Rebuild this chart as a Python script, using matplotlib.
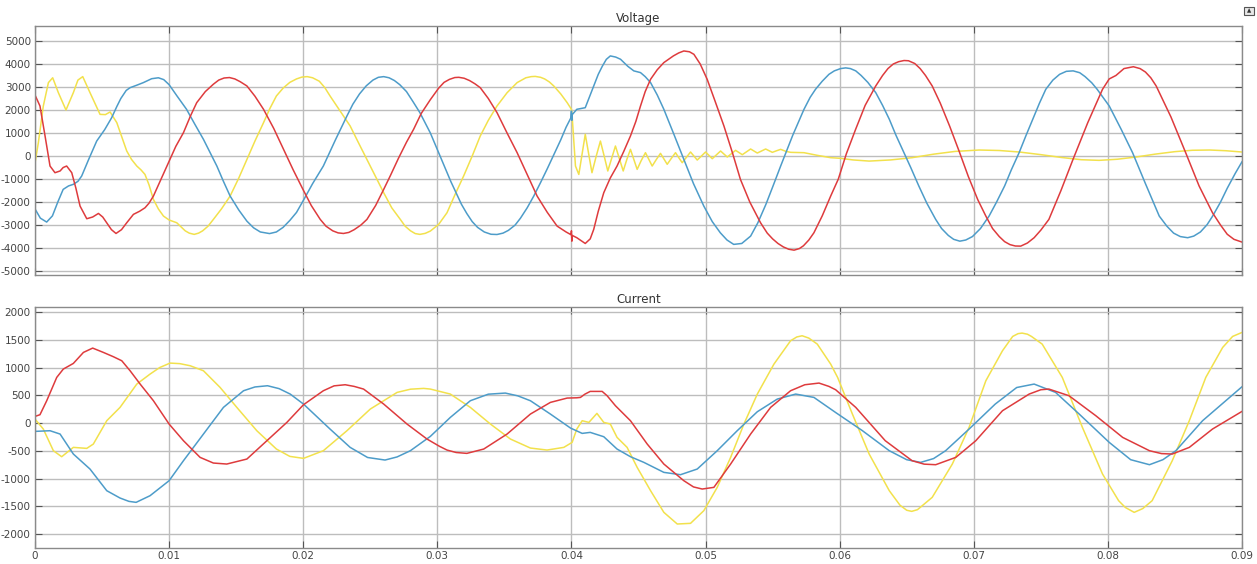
import matplotlib
matplotlib.use("Agg")
import matplotlib.pyplot as plt
from matplotlib.patches import Rectangle
import numpy as np

# ---------------- data (time in ms) ----------------
vb_t = [0, 0.4, 0.87, 1.3, 1.7, 2.1, 2.5, 2.86, 3.2, 3.48, 4.0, 4.6, 5.2, 5.72, 6.1, 6.4, 6.8, 7.09, 7.6,
        8.08, 8.7, 9.2, 9.6, 10.0, 10.6, 11.3, 11.9, 12.56, 13.06, 13.56, 14.05, 14.55, 15.2, 15.8, 16.3,
        16.8, 17.49, 18.0, 18.5, 19.0, 19.5, 19.98, 20.7, 21.5, 22.4, 23.26, 23.7, 24.2, 24.7, 25.2, 25.6,
        26.0, 26.4, 26.8, 27.2, 27.7, 28.2, 28.7, 29.48, 30.2, 31.0, 31.8, 32.2, 32.6, 33.0, 33.5, 34.0,
        34.45, 34.9, 35.3, 35.8, 36.2, 36.7, 37.19, 37.7, 38.2, 38.7, 39.2, 39.6, 39.95, 40.0, 40.03, 40.06,
        40.4, 41.03, 41.3, 41.66, 42.0, 42.3, 42.6, 42.9, 43.3, 43.66, 44.2, 44.65, 45.15, 45.5, 45.9, 46.4,
        46.89, 47.6, 48.38, 49.1, 49.87, 50.5, 51.1, 51.6, 52.1, 52.7, 53.36, 53.9, 54.5, 55.0, 55.6, 56.5,
        57.34, 57.8, 58.2, 58.7, 59.2, 59.6, 60.07, 60.45, 60.8, 61.2, 61.6, 62.1, 62.69, 63.2, 63.7, 64.2,
        64.68, 65.3, 65.9, 66.5, 67.16, 67.6, 68.1, 68.5, 68.96, 69.4, 69.9, 70.5, 71.14, 71.7, 72.3, 72.8,
        73.38, 73.9, 74.4, 74.9, 75.37, 75.9, 76.4, 76.9, 77.41, 77.9, 78.3, 78.8, 79.2, 79.7, 80.1, 81.0,
        81.84, 82.8, 83.83, 84.4, 84.9, 85.4, 85.95, 86.4, 86.9, 87.4, 87.81, 88.4, 88.9, 89.5, 90.0]
vb_v = [-2300, -2700, -2870, -2600, -2000, -1450, -1300, -1230, -1100, -870, -150, 650, 1150, 1670, 2150, 2500, 2850, 2970, 3080,
        3190, 3360, 3400, 3320, 3100, 2600, 2030, 1400, 725, 150, -435, -1100, -1740, -2350, -2830, -3120,
        -3300, -3370, -3300, -3100, -2800, -2450, -1960, -1200, -435, 700, 1740, 2250, 2700, 3050, 3300, 3420,
        3450, 3400, 3280, 3100, 2800, 2350, 1885, 1000, 0, -1100, -2100, -2500, -2850, -3100, -3300, -3400,
        -3410, -3350, -3230, -3000, -2700, -2250, -1740, -1150, -550, 80, 700, 1250, 1650, 1950, 1550, 1800,
        2030, 2100, 2500, 3045, 3550, 3900, 4200, 4350, 4300, 4205, 3900, 3700, 3625, 3450, 3190, 2650,
        2030, 1000, -145, -1200, -2175, -2850, -3335, -3650, -3840, -3800, -3480, -2900, -2100, -1350, -435, 900,
        2030, 2550, 2900, 3250, 3550, 3700, 3800, 3830, 3800, 3700, 3500, 3200, 2755, 2200, 1600, 900,
        290, -500, -1300, -2050, -2755, -3150, -3450, -3620, -3700, -3650, -3500, -3150, -2610, -2000, -1300, -600,
        145, 900, 1600, 2300, 2900, 3300, 3550, 3680, 3700, 3620, 3450, 3180, 2900, 2500, 2175, 1150,
        145, -1200, -2610, -3050, -3350, -3500, -3550, -3480, -3300, -2980, -2610, -2000, -1400, -750, -250]

vr_t = [0, 0.37, 0.75, 1.12, 1.49, 1.87, 2.1, 2.36, 2.74, 3.05, 3.36, 3.86, 4.3, 4.73, 5.05, 5.35, 5.7, 6.04,
        6.45, 6.84, 7.34, 7.8, 8.2, 8.5, 8.83, 9.4, 10.0, 10.5, 11.07, 11.6, 12.06, 12.7, 13.3, 13.7, 14.1,
        14.5, 14.9, 15.3, 15.8, 16.4, 17.04, 17.8, 18.53, 19.25, 19.98, 20.6, 21.27, 21.7, 22.2, 22.6, 23.0,
        23.4, 23.8, 24.3, 24.75, 25.4, 26.0, 26.5, 27.1, 27.7, 28.23, 28.8, 29.48, 30.1, 30.5, 30.9, 31.3,
        31.6, 32.0, 32.4, 32.8, 33.2, 33.8, 34.45, 35.2, 35.95, 36.7, 37.44, 38.2, 38.93, 39.6, 39.97, 40.0,
        40.03, 40.06, 40.4, 41.03, 41.4, 41.66, 42.0, 42.41, 42.9, 43.4, 43.9, 44.4, 44.8, 45.15, 45.5, 45.9,
        46.4, 46.89, 47.6, 48.0, 48.38, 48.8, 49.13, 49.6, 50.12, 50.7, 51.37, 52.0, 52.6, 53.3, 54.1, 54.6,
        55.0, 55.4, 55.8, 56.2, 56.6, 57.0, 57.3, 57.7, 58.08, 58.7, 59.33, 59.9, 60.5, 61.19, 61.9, 62.69,
        63.2, 63.6, 64.0, 64.4, 64.8, 65.13, 65.6, 66.0, 66.4, 66.9, 67.5, 68.2, 68.9, 69.6, 70.3, 70.9,
        71.4, 71.9, 72.3, 72.7, 73.1, 73.5, 74.0, 74.5, 75.0, 75.6, 76.5, 77.4, 78.5, 79.6, 80.1, 80.6,
        81.2, 81.9, 82.4, 82.8, 83.2, 83.6, 84.7, 85.8, 86.8, 87.8, 88.4, 88.9, 89.4, 90.0]
vr_v = [2650, 2175, 870, -435, -725, -650, -500, -435, -725, -1400, -2175, -2725, -2650, -2495, -2650, -2900, -3200, -3365,
        -3200, -2900, -2535, -2400, -2250, -2050, -1740, -1000, -218, 420, 1015, 1750, 2320, 2800, 3120, 3300, 3390,
        3410, 3350, 3230, 3045, 2600, 2030, 1200, 290, -600, -1450, -2150, -2755, -3050, -3250, -3340, -3365,
        -3320, -3200, -3000, -2755, -2150, -1450, -850, -100, 600, 1160, 1850, 2450, 2950, 3200, 3330, 3410,
        3420, 3380, 3280, 3140, 2970, 2500, 1885, 1000, 145, -800, -1740, -2450, -3045, -3300, -3420, -3250,
        -3700, -3450, -3550, -3800, -3600, -3190, -2400, -1595, -950, -435, 200, 870, 1500, 2175, 2800, 3335,
        3750, 4060, 4350, 4480, 4565, 4530, 4420, 4000, 3335, 2400, 1305, 150, -1015, -2000, -2900, -3350,
        -3600, -3800, -3950, -4050, -4090, -4020, -3900, -3650, -3335, -2600, -1740, -1000, 100, 1160, 2200, 3045,
        3500, 3800, 4000, 4100, 4150, 4140, 4020, 3800, 3500, 3045, 2300, 1300, 220, -900, -1900, -2610,
        -3150, -3500, -3720, -3850, -3910, -3915, -3780, -3550, -3220, -2755, -1500, -145, 1450, 2900, 3350, 3500,
        3800, 3880, 3800, 3650, 3400, 3045, 1700, 145, -1300, -2465, -3000, -3400, -3620, -3740]

vy_t = [0, 0.25, 0.62, 1.0, 1.32, 1.74, 2.31, 2.86, 3.2, 3.56, 4.1, 4.85, 5.25, 5.6, 6.1, 6.84, 7.2, 7.59, 7.9,
        8.2, 8.5, 8.83, 9.2, 9.58, 10.0, 10.57, 11.2, 11.5, 11.87, 12.2, 12.5, 12.9, 13.3, 13.9, 14.55, 15.2,
        15.8, 16.4, 17.04, 17.5, 18.0, 18.5, 19.0, 19.5, 19.9, 20.3, 20.7, 21.2, 21.6, 22.0, 22.7, 23.5, 24.1,
        24.75, 25.4, 26.0, 26.6, 27.24, 27.6, 28.0, 28.35, 28.7, 29.1, 29.48, 30.1, 30.72, 31.3, 31.96, 32.6,
        33.2, 33.8, 34.45, 35.2, 35.95, 36.6, 37.0, 37.3, 37.7, 38.0, 38.35, 38.68, 39.2, 39.68, 40.0, 40.05,
        40.1, 40.3, 40.55, 40.8, 41.03, 41.28, 41.53, 41.85, 42.16, 42.44, 42.71, 43.0, 43.28, 43.57, 43.86,
        44.13, 44.4, 44.65, 44.9, 45.2, 45.52, 45.77, 46.02, 46.33, 46.64, 46.89, 47.14, 47.45, 47.76, 48.0,
        48.26, 48.57, 48.88, 49.13, 49.38, 49.69, 50.0, 50.25, 50.5, 50.81, 51.12, 51.37, 51.62, 51.93, 52.24,
        52.49, 52.74, 53.05, 53.36, 53.61, 53.86, 54.17, 54.48, 54.73, 54.98, 55.3, 55.6, 56.0, 56.35, 57.34,
        58.33, 59.33, 60.07, 61.0, 62.2, 63.8, 65.4, 67.0, 68.6, 70.4, 71.9, 73.4, 75.0, 76.5, 78.0, 79.35,
        80.7, 82.1, 83.5, 85.0, 86.3, 87.6, 88.8, 90.0]
vy_v = [-300, 580, 2175, 3190, 3400, 2755, 2000, 2755, 3300, 3450, 2755, 1810, 1800, 1915, 1450, 218, -150, -435, -600,
        -800, -1250, -1885, -2300, -2610, -2780, -2900, -3250, -3350, -3405, -3350, -3250, -3050, -2755, -2300, -1740, -950,
        -145, 650, 1450, 2050, 2610, 2950, 3200, 3350, 3430, 3450, 3400, 3250, 2980, 2610, 2000, 1305, 600,
        -145, -900, -1595, -2250, -2755, -3050, -3250, -3370, -3405, -3360, -3260, -2970, -2465, -1700, -870, 0,
        870, 1550, 2175, 2750, 3190, 3400, 3450, 3460, 3420, 3350, 3220, 3045, 2700, 2320, 2030, 1750,
        1300, -435, -800, 100, 943, 100, -725, 0, 650, 0, -650, -100, 435, -100, -650,
        -150, 290, -150, -580, -200, 145, -150, -435, -150, 116, -120, -360, -100, 145, -70,
        -290, -60, 174, 0, -174, 0, 174, 30, -116, 50, 218, 90, -44, 100, 247,
        150, 58, 180, 305, 220, 130, 220, 305, 230, 160, 230, 290, 200, 160, 145,
        30, -72, -100, -170, -220, -170, -72, 80, 200, 261, 240, 174, 60, -60, -160, -188,
        -140, -43, 80, 190, 250, 261, 230, 174]

ir_t = [0, 0.37, 0.87, 1.62, 2.11, 2.86, 3.61, 4.3, 5.1, 5.85, 6.47, 7.09, 7.84, 8.83, 10.0, 11.07, 12.31,
        13.3, 14.3, 15.8, 17.29, 18.78, 20.02, 21.5, 22.3, 23.13, 23.8, 24.5, 26.0, 27.74, 29.23, 30.17,
        30.72, 31.4, 32.2, 33.46, 35.2, 36.94, 38.43, 39.68, 40.4, 40.67, 41.0, 41.4, 42.29, 42.66, 43.28,
        44.4, 45.65, 46.89, 48.38, 49.1, 49.75, 50.62, 51.87, 53.36, 54.85, 56.34, 57.4, 58.46, 59.2, 59.7,
        61.2, 63.4, 65.4, 66.3, 67.16, 68.66, 70.15, 72.14, 74.13, 75.0, 75.6, 77.1, 79.1, 81.1, 83.1, 84.0,
        84.8, 86.07, 87.8, 90.0]
ir_v = [120, 150, 400, 822, 972, 1074, 1272, 1350, 1272, 1194, 1122, 942, 702, 402, -18, -318, -618,
        -720, -738, -648, -318, 12, 330, 582, 670, 690, 660, 612, 342, -18, -288, -420,
        -486, -530, -546, -468, -198, 162, 372, 450, 455, 462, 520, 570, 570, 492, 312,
        42, -378, -738, -1038, -1150, -1188, -1158, -738, -198, 282, 582, 690, 720, 660, 600,
        282, -318, -678, -740, -750, -618, -318, 222, 522, 600, 612, 492, 132, -258, -498, -550,
        -558, -438, -108, 210]

ib_t = [0, 1.12, 1.87, 2.86, 4.1, 5.35, 6.34, 7.0, 7.54, 8.58, 10.0, 11.07, 12.56, 14.05, 15.55, 16.4,
        17.34, 18.2, 19.03, 20.02, 22.0, 23.5, 24.8, 26.1, 27.0, 27.99, 29.48, 30.97, 32.46, 33.8, 35.07,
        36.0, 36.94, 38.43, 39.93, 40.8, 41.4, 42.41, 43.4, 44.4, 45.4, 46.89, 48.13, 49.38, 50.87, 52.36,
        53.86, 55.35, 56.72, 58.08, 59.7, 61.7, 63.7, 65.0, 66.04, 67.0, 67.9, 69.65, 71.6, 73.2, 74.5,
        76.1, 77.86, 80.1, 81.7, 83.1, 84.1, 85.07, 87.06, 90.0]
ib_v = [-150, -138, -198, -558, -828, -1218, -1350, -1410, -1428, -1308, -1038, -678, -198, 282, 582, 650,
        672, 620, 522, 342, -108, -438, -620, -666, -610, -498, -240, 102, 402, 520, 540,
        490, 402, 162, -90, -186, -168, -246, -468, -606, -708, -888, -930, -828, -498, -138,
        204, 432, 522, 462, 190, -138, -498, -660, -708, -640, -498, -108, 342, 640, 702,
        552, 162, -348, -660, -750, -660, -498, 42, 654]

iy_t = [0, 0.62, 1.37, 1.99, 2.86, 3.86, 4.35, 5.35, 6.34, 7.59, 8.58, 9.3, 10.07, 10.8, 11.57, 12.56, 13.8,
        15.05, 16.54, 18.0, 19.0, 20.02, 21.5, 23.26, 25.0, 27.0, 28.0, 28.98, 29.48, 30.97, 32.46, 33.96,
        35.45, 36.94, 38.18, 39.43, 40.05, 40.4, 40.8, 41.3, 41.9, 42.41, 42.9, 43.4, 44.15, 44.9, 45.9,
        46.89, 47.89, 48.88, 49.87, 50.87, 51.87, 52.86, 53.86, 55.1, 56.34, 56.8, 57.2, 57.7, 58.33, 59.33,
        59.85, 60.95, 62.2, 63.7, 64.5, 65.0, 65.37, 65.8, 66.1, 66.9, 68.4, 69.65, 70.9, 72.14, 72.9, 73.3,
        73.6, 74.0, 74.3, 75.1, 76.6, 78.1, 79.6, 80.8, 81.3, 81.96, 82.6, 83.3, 84.8, 86.07, 87.3, 88.56,
        89.3, 90.0]
iy_v = [72, -108, -498, -606, -438, -456, -378, 42, 282, 702, 882, 1000, 1080, 1070, 1032, 942, 642,
        282, -138, -468, -600, -636, -498, -138, 252, 552, 610, 624, 612, 522, 282, -18,
        -288, -450, -486, -438, -348, -108, 42, 12, 174, 12, -18, -258, -438, -798, -1218,
        -1608, -1818, -1806, -1578, -1158, -618, -18, 522, 1062, 1482, 1550, 1572, 1530, 1422, 1062,
        820, 162, -558, -1218, -1480, -1570, -1590, -1560, -1500, -1338, -738, -78, 762, 1302, 1560, 1610,
        1620, 1600, 1560, 1422, 822, -78, -918, -1398, -1520, -1608, -1540, -1398, -678, 42, 822, 1362,
        1560, 1632]

x_ticks = [0, 0.01, 0.02, 0.03, 0.04, 0.05, 0.06, 0.07, 0.08, 0.09]
x_labels = ["0", "0.01", "0.02", "0.03", "0.04", "0.05", "0.06", "0.07", "0.08", "0.09"]
v_ticks = [-5000, -4000, -3000, -2000, -1000, 0, 1000, 2000, 3000, 4000, 5000]
i_ticks = [-2000, -1500, -1000, -500, 0, 500, 1000, 1500, 2000]

C_Y = "#f2e14c"
C_B = "#4d9cc9"
C_R = "#de3b3d"

fig = plt.figure(figsize=(12.57, 5.64), dpi=100)
fig.patch.set_facecolor("white")
ax1 = fig.add_axes([35/1257, 1-275/564, (1242-35)/1257, (275-26)/564])
ax2 = fig.add_axes([35/1257, 1-548/564, (1242-35)/1257, (548-307)/564])

def ms(t):
    return np.asarray(t) / 1000.0

def style(ax, yticks, ylim, title):
    ax.set_xlim(0, 0.09)
    ax.set_ylim(*ylim)
    ax.set_xticks(x_ticks)
    ax.set_yticks(yticks)
    ax.set_yticklabels([str(v) for v in yticks])
    ax.grid(True, color="#bdbdbd", linewidth=1.0)
    ax.set_axisbelow(True)
    for s in ax.spines.values():
        s.set_color("#8a8a8a")
        s.set_linewidth(1.0)
    ax.tick_params(direction="in", top=True, right=True, length=5, width=0.8,
                   colors="#555555", labelsize=7.5, pad=3, labelcolor="#444444")
    ax.set_title(title, fontsize=8.5, color="#333333", pad=3)

for ax, (t, v, c) in [(ax1, (vy_t, vy_v, C_Y)), (ax1, (vb_t, vb_v, C_B)), (ax1, (vr_t, vr_v, C_R)),
                      (ax2, (iy_t, iy_v, C_Y)), (ax2, (ib_t, ib_v, C_B)), (ax2, (ir_t, ir_v, C_R))]:
    ax.plot(ms(t), v, color=c, lw=1.1, solid_joinstyle="round")

style(ax1, v_ticks, (-5170, 5650), "Voltage")
ax1.set_xticklabels([])
style(ax2, i_ticks, (-2250, 2090), "Current")
ax2.set_xticklabels(x_labels)
ax2.tick_params(axis="x", pad=2)

# small scope button at the top right
fig.patches.append(Rectangle((1244/1257, 1-15/564), 10/1257, 8/564, transform=fig.transFigure,
                             facecolor="#e8e8e8", edgecolor="#555555", linewidth=0.8))
fig.text(1249/1257, 1-11/564, "▲", fontsize=4, ha="center", va="center", color="#333333")

fig.savefig("out.png", dpi=100, facecolor="white")
